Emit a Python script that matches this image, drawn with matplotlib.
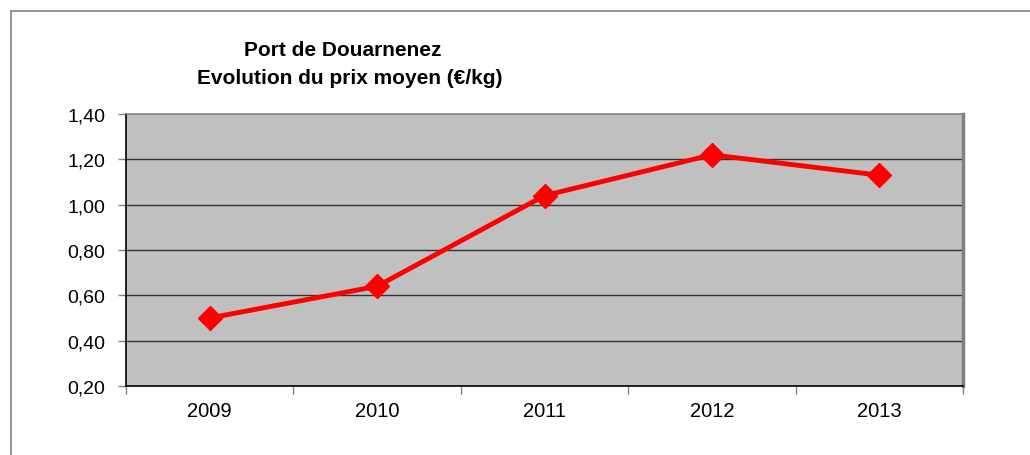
import matplotlib.pyplot as plt
from matplotlib.patches import Rectangle

years = ['2009', '2010', '2011', '2012', '2013']
prix = [0.50, 0.64, 1.04, 1.22, 1.13]
yticks = [0.20, 0.40, 0.60, 0.80, 1.00, 1.20, 1.40]

plt.rcParams['font.family'] = ['Liberation Sans', 'DejaVu Sans']

fig = plt.figure(figsize=(10.30, 4.56), dpi=100)
W, H = 1030, 456

# outer chart frame, runs off the right and bottom edges
fig.patches.append(Rectangle((11 / W, -0.1), 1.2, 1.1 - 12 / H, transform=fig.transFigure,
                             fill=False, edgecolor='#808080', lw=1.2))

ax = fig.add_axes([126 / W, (H - 387) / H, (963 - 126) / W, (387 - 115) / H])
ax.set_facecolor('#c0c0c0')

x = range(len(years))
ax.plot(x, prix, color='#ff0000', lw=3.5, marker='D', ms=12, zorder=3)

ax.set_xlim(-0.5, len(years) - 0.5)
ax.set_ylim(0.2, 1.4)
ax.set_yticks(yticks)
ax.set_yticklabels([f'{v:.2f}'.replace('.', ',') for v in yticks], fontsize=14)
ax.set_xticks([i - 0.5 for i in range(len(years) + 1)], minor=False)
ax.set_xticklabels([])
ax.set_xticks(list(x), minor=True)
ax.set_xticklabels(years, minor=True, fontsize=14.5)
ax.tick_params(axis='x', which='minor', length=0, pad=11)
ax.tick_params(axis='x', which='major', length=6, color='#808080', width=1)
ax.tick_params(axis='y', length=6, color='#808080', width=1, pad=9)

for v in yticks[1:-1]:
    ax.axhline(v, color='#333333', lw=1, zorder=1)

ax.spines['left'].set_color('black')
ax.spines['bottom'].set_color('black')
ax.spines['left'].set_linewidth(1.2)
ax.spines['bottom'].set_linewidth(1.2)
ax.spines['top'].set_color('#808080')
ax.spines['top'].set_linewidth(1.2)
ax.spines['right'].set_color('#808080')
ax.spines['right'].set_linewidth(2.5)

fig.text(343 / W, 1 - 51 / H, 'Port de Douarnenez', ha='center', va='center',
         fontsize=15, fontweight='bold')
fig.text(350 / W, 1 - 78 / H, 'Evolution du prix moyen (€/kg)', ha='center', va='center',
         fontsize=15, fontweight='bold')

fig.savefig('out.png', dpi=100)
